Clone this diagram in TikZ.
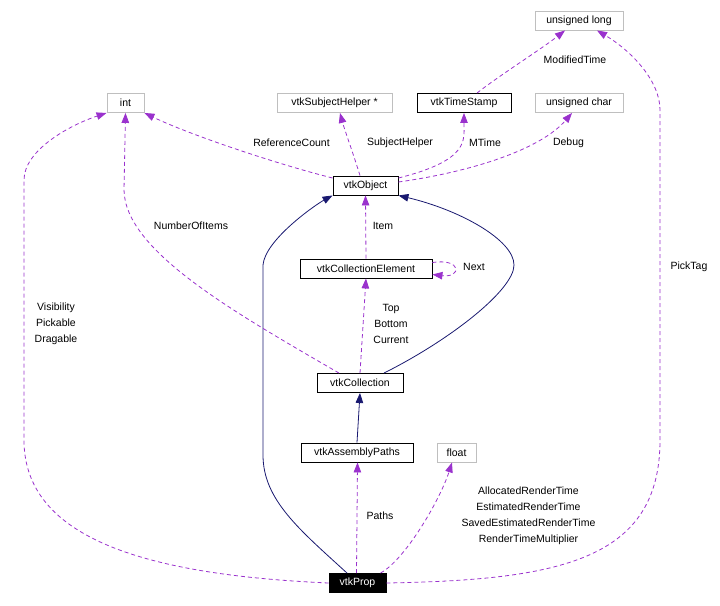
\documentclass[tikz,border=0pt]{standalone}
\usepackage{fontspec}
\setmainfont{Liberation Sans}
\usetikzlibrary{calc,arrows.meta}
\usepackage{xcolor}
\definecolor{usepurple}{HTML}{9A32CD}
\definecolor{inhnavy}{HTML}{191970}
\definecolor{extgray}{HTML}{BFBFBF}

\tikzset{
  cls/.style={draw=black, fill=white, line width=0.9pt, inner sep=0pt,
    minimum height=19, font=\fontsize{10.5}{12}\selectfont},
  extcls/.style={cls, draw=extgray},
  usage/.style={draw=usepurple, line width=0.8pt, dash pattern=on 4pt off 3pt,
    -{Triangle[length=10pt, width=7.5pt, fill=usepurple]}},
  inherit/.style={draw=inhnavy, line width=0.8pt,
    -{Triangle[length=10pt, width=7.5pt, fill=inhnavy]}},
  lbl/.style={align=center, inner sep=0pt, font=\fontsize{10.5}{16}\selectfont}
}

\begin{document}
\begin{tikzpicture}[x=1pt, y=-1pt]

  \useasboundingbox (0,0) rectangle (720,605);

  % ==================== CLASS BOXES ====================
  \node[extcls, minimum width=37]  (int)   at (125.5,103)  {int};
  \node[extcls, minimum width=115] (subj)  at (334.5,103)  {vtkSubjectHelper *};
  \node[cls,    minimum width=94]  (stamp) at (464,103)    {vtkTimeStamp};
  \node[extcls, minimum width=88]  (uchar) at (579,103)    {unsigned char};
  \node[extcls, minimum width=88]  (ulong) at (579,20.5)   {unsigned long};
  \node[cls,    minimum width=65]  (obj)   at (365.5,185.5) {vtkObject};
  \node[cls,    minimum width=132] (elem)  at (366,268.5)  {vtkCollectionElement};
  \node[cls,    minimum width=86]  (coll)  at (360,383)    {vtkCollection};
  \node[cls,    minimum width=112] (paths) at (357,452.5)  {vtkAssemblyPaths};
  \node[extcls, minimum width=39]  (float) at (456.5,452.5) {float};
  \node[cls, fill=black, text=white, minimum width=57] (prop) at (357.5,583) {vtkProp};

  % ==================== INHERITANCE (solid) ====================
  \draw[inherit] (paths.north) -- (coll.south);
  \draw[inherit] ($(coll.north)+(24,0)$) .. controls (450,340) and (514,290) .. (514,265)
    .. controls (514,240) and (460,210) .. (obj.south east);
  \draw[inherit] ($(prop.north)+(-10.5,0)$) .. controls (300,530) and (263,500) .. (263,455)
    -- (263,265) .. controls (265,240) and (315,205) .. (obj.south west);

  % ==================== MEMBERS OF vtkObject ====================
  \draw[usage] ($(obj.west)+(0,-7.5)$) .. controls (280,165) and (190,135) .. (int.south east);
  \node[lbl] (lrefcount) at (291.5,143) {ReferenceCount};

  \draw[usage] ($(obj.north)+(-5.5,0)$) .. controls (352,150) and (344,128) .. ($(subj.south)+(5.5,0)$);
  \node[lbl] (lsubj) at (400,143) {SubjectHelper};

  \draw[usage] ($(obj.east)+(0,-7.5)$) .. controls (470,160) and (464,140) .. (stamp.south);
  \node[lbl] (lmtime) at (485,143) {MTime};

  \draw[usage] ($(obj.east)+(0,-3.5)$) .. controls (470,172) and (540,150) .. ($(uchar.south)+(-7,0)$);
  \node[lbl] (ldebug) at (568.5,143) {Debug};

  \draw[usage] ($(stamp.north)+(13,0)$) .. controls (500,75) and (540,50) .. ($(ulong.south)+(-14,0)$);
  \node[lbl] (lmodtime) at (575,60) {ModifiedTime};

  % ==================== COLLECTION MEMBERS ====================
  \draw[usage] (elem.north) -- (obj.south);
  \node[lbl] (litem) at (383,226) {Item};

  \draw[usage] ($(elem.east)+(0,-6)$) .. controls (462,258) and (462,278) .. ($(elem.east)+(0,6)$);
  \node[lbl] (lnext) at (474,267) {Next};

  \draw[usage] (coll.north) -- (elem.south);
  \node[lbl] (ltop) at (391,324) {Top\\Bottom\\Current};

  \draw[usage] ($(coll.north)+(-21,0)$) .. controls (230,310) and (125,250) .. (124,190) -- (int.south);
  \node[lbl] (lnumitems) at (191,226) {NumberOfItems};

  % ==================== MEMBERS OF vtkProp ====================
  \draw[usage] (prop.west) .. controls (150,575) and (24,540) .. (24,440)
    -- (24,180) .. controls (24,150) and (70,125) .. (int.south west);
  \node[lbl] (lvis) at (56,324) {Visibility\\Pickable\\Dragable};

  \draw[usage] ($(prop.north)+(-1,0)$) -- ($(paths.south)+(0.5,0)$);
  \node[lbl] (lpaths) at (380,516) {Paths};

  \draw[usage] ($(prop.north east)+(-6,0)$) .. controls (405,560) and (440,500) .. ($(float.south)+(-4.5,0)$);
  \node[lbl] (lrender) at (528.5,516) {AllocatedRenderTime\\EstimatedRenderTime\\SavedEstimatedRenderTime\\RenderTimeMultiplier};

  \draw[usage] (prop.east) .. controls (560,580) and (660,560) .. (660,440)
    -- (660,110) .. controls (660,80) and (630,50) .. ($(ulong.south)+(18,0)$);
  \node[lbl] (lpicktag) at (689,267) {PickTag};

\end{tikzpicture}
\end{document}
